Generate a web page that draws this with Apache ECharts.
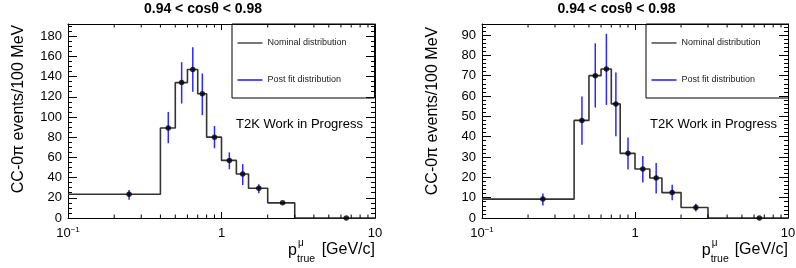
<!DOCTYPE html>
<html>
<head>
<meta charset="utf-8">
<script src="https://cdn.jsdelivr.net/npm/echarts@6/dist/echarts.min.js"></script>
<style>
  html, body { margin: 0; padding: 0; background: #fff; }
  #chart { width: 796px; height: 268px; }
</style>
</head>
<body>
<div id="chart"></div>
<script>
// bins in p_true (GeV/c), log x axis
const binEdges = [0.1, 0.4, 0.5, 0.6, 0.7, 0.8, 1.0, 1.25, 1.5, 2.0, 3.0, 10];
const binCenters = [0.25, 0.45, 0.55, 0.65, 0.75, 0.9, 1.125, 1.375, 1.75, 2.5, 6.5];

// left panel
const nominalLeft = [23.5, 89, 134, 147, 123, 80, 57, 43.5, 29.5, 15, 0];
const postLowLeft = [18, 74, 113.3, 125, 101.8, 69, 48.2, 32.6, 24.4, 14.2, 0];
const postHighLeft = [27.7, 105, 154.2, 169, 143, 91, 65, 53.3, 33.5, 15.8, 0.6];

// right panel
const nominalRight = [9.3, 48, 70, 73.3, 56.1, 31.8, 24.1, 19.7, 12.5, 5.2, 0];
const postLowRight = [6.2, 36, 54.3, 55.6, 40.2, 23.9, 17.5, 12, 8.7, 3.2, 0];
const postHighRight = [12, 59.7, 85.9, 90.6, 71.5, 39.6, 30.5, 27.1, 16.4, 7, 0.4];

// log-decade minor ticks (2..9 of each decade)
const xMinorTicks = [0.2, 0.3, 0.4, 0.5, 0.6, 0.7, 0.8, 0.9, 2, 3, 4, 5, 6, 7, 8, 9];

const titleText = '0.94 < cosθ < 0.98';
const yTitleText = 'CC-0π events/100 MeV';
const labelText = 'T2K Work in Progress';
const legendNames = ['Nominal distribution', 'Post fit distribution'];

const FONT = '"Liberation Sans", Arial, Helvetica, sans-serif';
const HIST_COLOR = '#333333';
const BLUE = '#2a2aff';
const MINOR_LEN = 3.5;

const panels = [
    { left: 68, width: 307, yMax: 192, yInterval: 20, yMinor: 4,
      nominal: nominalLeft, low: postLowLeft, high: postHighLeft,
      titleX: 203, yTitleX: 19, yTitleY: 109, t2kX: 236, pX: 288, legendX: 232 },
    { left: 482, width: 306, yMax: 95.4, yInterval: 10, yMinor: 5,
      nominal: nominalRight, low: postLowRight, high: postHighRight,
      titleX: 616.5, yTitleX: 432.5, yTitleY: 111, t2kX: 650, pX: 701.7, legendX: 646 }
];
const GRID_TOP = 24, GRID_H = 194;

function xLabel(v) {
    if (Math.abs(v - 0.1) < 1e-6) return '{b|10}{s|−1}';
    return '{b|' + Math.round(v) + '}';
}

function renderErrorBar(params, api) {
    const x = api.value(0);
    const lo = api.coord([x, api.value(1)]);
    const hi = api.coord([x, api.value(2)]);
    return {
        type: 'line',
        shape: { x1: lo[0], y1: lo[1], x2: hi[0], y2: hi[1] },
        style: { stroke: BLUE, lineWidth: 1.5 }
    };
}

// short minor ticks on bottom and top frame at the given x value
function makeMinorTickRenderer(yMax) {
    return function (params, api) {
        const x = api.value(0);
        const b = api.coord([x, 0]);
        const t = api.coord([x, yMax]);
        return {
            type: 'group',
            children: [
                { type: 'line', shape: { x1: b[0], y1: b[1], x2: b[0], y2: b[1] - MINOR_LEN },
                  style: { stroke: '#000', lineWidth: 1 } },
                { type: 'line', shape: { x1: t[0], y1: t[1], x2: t[0], y2: t[1] + MINOR_LEN },
                  style: { stroke: '#000', lineWidth: 1 } }
            ]
        };
    };
}

const blackLine = { color: '#000', width: 1 };
const grids = [], xAxes = [], yAxes = [], series = [], legends = [], graphics = [];

panels.forEach(function (p, i) {
    grids.push({ left: p.left, top: GRID_TOP, width: p.width, height: GRID_H,
        containLabel: false, outerBoundsMode: 'none' });

    const logBase = { type: 'log', logBase: 10, gridIndex: i, min: 0.1, max: 10,
        splitLine: { show: false }, axisPointer: { show: false } };

    xAxes.push(Object.assign({}, logBase, {
        position: 'bottom',
        axisLine: { show: true, onZero: false, lineStyle: blackLine },
        axisTick: { show: true, inside: true, length: 6, lineStyle: blackLine },
        axisLabel: { show: true, margin: 8, formatter: xLabel, showMinLabel: true, showMaxLabel: true,
            rich: {
                b: { fontSize: 13, fontFamily: FONT, color: '#000', lineHeight: 14 },
                s: { fontSize: 8, fontFamily: FONT, color: '#000', verticalAlign: 'top' }
            } }
    }));
    // top mirror
    xAxes.push(Object.assign({}, logBase, {
        position: 'top',
        axisLine: { show: true, onZero: false, lineStyle: blackLine },
        axisTick: { show: true, inside: true, length: 6, lineStyle: blackLine },
        axisLabel: { show: false }
    }));

    const yBase = { type: 'value', gridIndex: i, min: 0, max: p.yMax, interval: p.yInterval,
        splitLine: { show: false }, axisLine: { show: true, onZero: false, lineStyle: blackLine },
        axisTick: { show: true, inside: true, length: 9, lineStyle: blackLine },
        minorTick: { show: true, splitNumber: p.yMinor, length: 4, lineStyle: blackLine } };
    yAxes.push(Object.assign({}, yBase, {
        position: 'left',
        axisLabel: { show: true, margin: 6, fontSize: 13, fontFamily: FONT, color: '#000',
            showMaxLabel: false,
            formatter: function (v) { return v % p.yInterval === 0 ? String(v) : ''; } }
    }));
    yAxes.push(Object.assign({}, yBase, { position: 'right', axisLabel: { show: false } }));

    const xi = i * 2, yi = i * 2;
    series.push({
        name: 'minor ticks', type: 'custom', xAxisIndex: xi, yAxisIndex: yi, z: 5,
        renderItem: makeMinorTickRenderer(p.yMax), silent: true, clip: false,
        encode: { x: 0, y: 1 },
        data: xMinorTicks.map(function (v) { return [v, 0]; })
    });
    // step histogram drawn through bin edges
    const stepData = binEdges.map(function (e, k) {
        return [e, p.nominal[Math.min(k, p.nominal.length - 1)]];
    });
    series.push({
        name: legendNames[0], type: 'line', step: 'end', xAxisIndex: xi, yAxisIndex: yi,
        data: stepData, symbol: 'none', z: 2,
        lineStyle: { color: HIST_COLOR, width: 1.6 }, itemStyle: { color: '#555' }
    });
    series.push({
        name: legendNames[1], type: 'custom', xAxisIndex: xi, yAxisIndex: yi, z: 3,
        renderItem: renderErrorBar, itemStyle: { color: BLUE },
        encode: { x: 0, y: [1, 2] },
        data: binCenters.map(function (c, k) { return [c, p.low[k], p.high[k]]; })
    });
    series.push({
        name: 'nominal points', type: 'scatter', xAxisIndex: xi, yAxisIndex: yi, z: 4,
        symbol: 'circle', symbolSize: 5.5, itemStyle: { color: '#000' },
        data: binCenters.map(function (c, k) { return [c, p.nominal[k]]; })
    });

    legends.push({
        left: p.legendX, top: GRID_TOP, orient: 'vertical', align: 'left',
        itemWidth: 25, itemHeight: 10, itemGap: 27, selectedMode: false,
        padding: [14, 28, 13, 5.5],
        borderColor: '#000', borderWidth: 1, borderRadius: 0, backgroundColor: 'transparent',
        textStyle: { fontSize: 9, fontFamily: FONT, color: '#222', lineHeight: 10 },
        data: [
            { name: legendNames[0], icon: 'path://M0,0H25V1.6H0Z', itemStyle: { color: '#555' } },
            { name: legendNames[1], icon: 'path://M0,0H25V1.6H0Z', itemStyle: { color: BLUE } }
        ]
    });

    graphics.push(
        { type: 'text', x: p.titleX, y: 9.5,
          style: { text: titleText, font: 'bold 14px ' + FONT, fill: '#000', align: 'center', verticalAlign: 'middle' } },
        { type: 'text', x: p.t2kX, y: 124,
          style: { text: labelText, font: '13px ' + FONT, fill: '#000', align: 'left', verticalAlign: 'middle' } },
        { type: 'text', x: p.yTitleX, y: p.yTitleY, rotation: Math.PI / 2,
          style: { text: yTitleText, font: '16px ' + FONT, fill: '#000', align: 'center', verticalAlign: 'middle' } },
        { type: 'text', x: p.pX, y: 251,
          style: { text: 'p', font: '16px ' + FONT, fill: '#000', align: 'left', verticalAlign: 'middle' } },
        { type: 'text', x: p.pX + 10, y: 243,
          style: { text: 'μ', font: '10px ' + FONT, fill: '#000', align: 'left', verticalAlign: 'middle' } },
        { type: 'text', x: p.pX + 9, y: 259,
          style: { text: 'true', font: '10.5px ' + FONT, fill: '#000', align: 'left', verticalAlign: 'middle' } },
        { type: 'text', x: p.left + p.width, y: 250,
          style: { text: '[GeV/c]', font: '16px ' + FONT, fill: '#000', align: 'right', verticalAlign: 'middle' } }
    );
});

const chart = echarts.init(document.getElementById('chart'), null, { renderer: 'canvas' });
chart.setOption({
    animation: false,
    backgroundColor: '#fff',
    grid: grids,
    xAxis: xAxes,
    yAxis: yAxes,
    legend: legends,
    series: series,
    graphic: graphics
});
</script>
</body>
</html>
